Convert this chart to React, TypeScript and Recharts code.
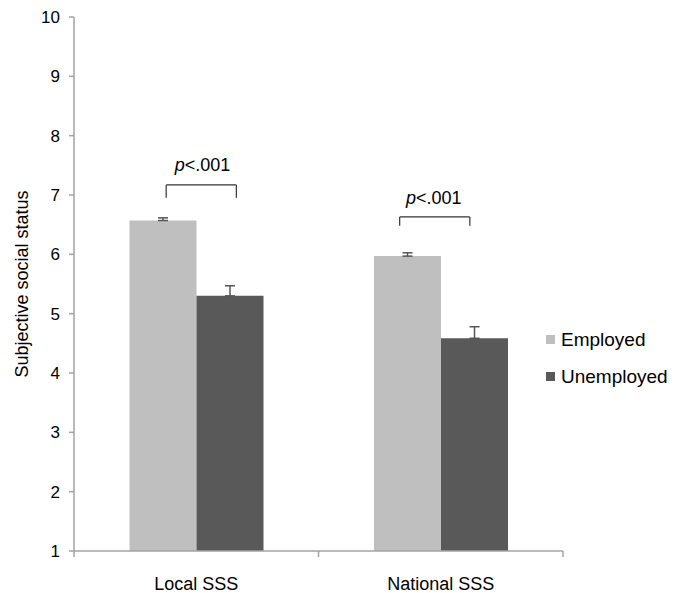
import React from 'react';
import {
  ComposedChart,
  Bar,
  XAxis,
  YAxis,
  ErrorBar,
  ReferenceLine,
  ReferenceDot,
  Legend,
} from 'recharts';

// ---- data ----
const categories = ['Local SSS', 'National SSS'];
const seriesNames = ['Employed', 'Unemployed'];
const employed = [6.57, 5.97];
const employedErr = [0.045, 0.056];
const unemployed = [5.3, 4.585];
const unemployedErr = [0.17, 0.195];
const yTicks = [1, 2, 3, 4, 5, 6, 7, 8, 9, 10];
const categoryBoundaries = [0, 1, 2];

// significance brackets (x on a 0..2 category-span scale, y in data units)
const bracketLeft = [0.377, 1.332];
const bracketRight = [0.664, 1.619];
const bracketTop = [7.17, 6.63];
const bracketBottom = [6.955, 6.48];
const pLabelX = [0.526, 1.471];
const pLabelY = [7.4, 6.84];
const pLabelText = ['<.001', '<.001'];

const COLORS = ['#bfbfbf', '#595959'];
const AXIS = '#a3a3a3';
const FONT = '"Liberation Sans", Arial, sans-serif';

const data = categories.map((c, i) => ({
  name: c,
  span: [categoryBoundaries[i], categoryBoundaries[i + 1]],
  employed: employed[i],
  employedErr: [0, employedErr[i]],
  unemployed: unemployed[i],
  unemployedErr: [0, unemployedErr[i]],
}));

const LegendContent = () => (
  <div style={{ fontFamily: FONT, fontSize: 19, color: '#000' }}>
    {seriesNames.map((n, i) => (
      <div key={n} style={{ display: 'flex', alignItems: 'center', height: 37 }}>
        <span
          style={{
            display: 'inline-block',
            width: 9,
            height: 9,
            background: COLORS[i],
            marginRight: 6,
          }}
        />
        <span>{n}</span>
      </div>
    ))}
  </div>
);

const YLabel = (props: any) => {
  const vb = props.viewBox || {};
  const cx = (vb.x || 0) + 22;
  const cy = (vb.y || 0) + (vb.height || 0) / 2;
  return (
    <text
      x={cx}
      y={cy}
      transform={`rotate(-90, ${cx}, ${cy})`}
      textAnchor="middle"
      dominantBaseline="central"
      fontFamily={FONT}
      fontSize={18}
      fill="#000"
    >
      Subjective social status
    </text>
  );
};

export default function App() {
  return (
    <div style={{ position: 'absolute', left: 0, top: 0, width: 674, height: 593, background: '#fff' }}>
      <ComposedChart
        width={674}
        height={593}
        data={data}
        margin={{ top: 17, right: 111, bottom: 0, left: 0 }}
        barCategoryGap="22.7%"
        barGap={0}
      >
        <XAxis
          xAxisId="cat"
          dataKey="name"
          tickLine={false}
          tickSize={0}
          tickMargin={26}
          height={42}
          axisLine={{ stroke: AXIS, strokeWidth: 1.5 }}
          tick={{ fill: '#000', fontSize: 18, fontFamily: FONT }}
        />
        <XAxis
          xAxisId="num"
          dataKey="span"
          type="number"
          domain={[0, 2]}
          ticks={categoryBoundaries}
          allowDataOverflow
          hide
        />
        <YAxis
          domain={[1, 10]}
          ticks={yTicks}
          interval={0}
          width={74}
          tickSize={5}
          tickMargin={9}
          axisLine={{ stroke: AXIS, strokeWidth: 1.5 }}
          tickLine={{ stroke: AXIS, strokeWidth: 1.5 }}
          tick={{ fill: '#000', fontSize: 17, fontFamily: FONT }}
          label={{ content: YLabel }}
        />
        <Bar xAxisId="cat" dataKey="employed" name={seriesNames[0]} fill={COLORS[0]} isAnimationActive={false}>
          <ErrorBar dataKey="employedErr" width={5} stroke="#555" strokeWidth={1.5} direction="y" />
        </Bar>
        <Bar xAxisId="cat" dataKey="unemployed" name={seriesNames[1]} fill={COLORS[1]} isAnimationActive={false}>
          <ErrorBar dataKey="unemployedErr" width={5} stroke="#555" strokeWidth={1.5} direction="y" />
        </Bar>
        {categoryBoundaries.map((b) => (
          <ReferenceLine
            key={`b${b}`}
            xAxisId="num"
            segment={[{ x: b, y: 1 }, { x: b, y: 0.9 }]}
            stroke={AXIS}
            strokeWidth={1.5}
            ifOverflow="visible"
          />
        ))}
        {categories.map((c, i) => (
          <ReferenceLine
            key={`h${i}`}
            xAxisId="num"
            segment={[{ x: bracketLeft[i], y: bracketTop[i] }, { x: bracketRight[i], y: bracketTop[i] }]}
            stroke="#333"
            strokeWidth={1.2}
            ifOverflow="visible"
          />
        ))}
        {categories.map((c, i) => (
          <ReferenceLine
            key={`l${i}`}
            xAxisId="num"
            segment={[{ x: bracketLeft[i], y: bracketTop[i] }, { x: bracketLeft[i], y: bracketBottom[i] }]}
            stroke="#333"
            strokeWidth={1.2}
            ifOverflow="visible"
          />
        ))}
        {categories.map((c, i) => (
          <ReferenceLine
            key={`r${i}`}
            xAxisId="num"
            segment={[{ x: bracketRight[i], y: bracketTop[i] }, { x: bracketRight[i], y: bracketBottom[i] }]}
            stroke="#333"
            strokeWidth={1.2}
            ifOverflow="visible"
          />
        ))}
        {categories.map((c, i) => (
          <ReferenceDot
            key={`p${i}`}
            xAxisId="num"
            x={pLabelX[i]}
            y={pLabelY[i]}
            r={0}
            ifOverflow="visible"
            shape={(p: any) => (
              <text x={p.cx} y={p.cy} textAnchor="middle" fontFamily={FONT} fontSize={18} fill="#000">
                <tspan fontStyle="italic">p</tspan>
                {pLabelText[i]}
              </text>
            )}
          />
        ))}
        <Legend
          layout="horizontal"
          align="center"
          verticalAlign="middle"
          content={<LegendContent />}
          wrapperStyle={{ position: 'absolute', left: 546, top: 321, width: 128 }}
        />
      </ComposedChart>
    </div>
  );
}
